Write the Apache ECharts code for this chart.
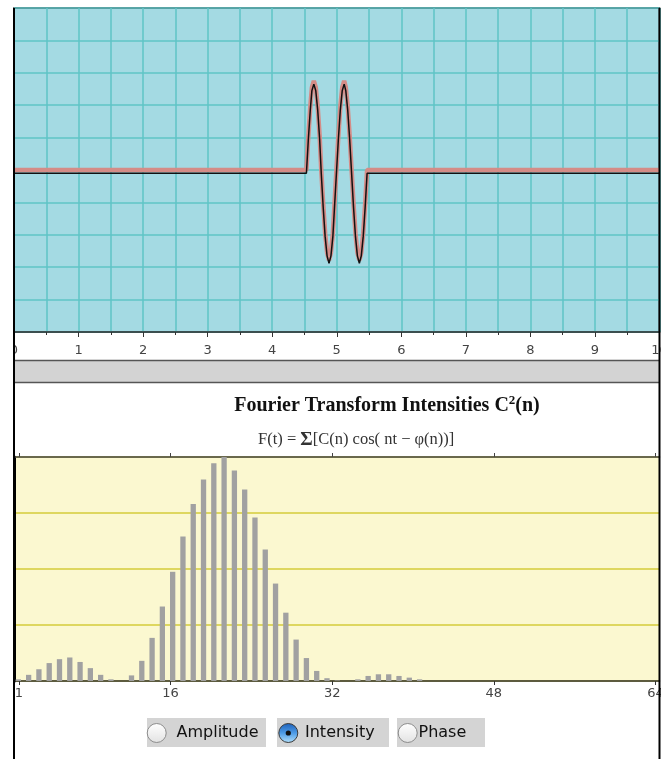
<!DOCTYPE html>
<html>
<head>
<meta charset="utf-8">
<script src="https://cdn.jsdelivr.net/npm/echarts@6/dist/echarts.min.js"></script>
<style>
  html, body { margin: 0; padding: 0; background: #fff; }
  #chart { position: absolute; left: 13px; top: 0; width: 648px; height: 759px; }
</style>
</head>
<body>
<div id="chart"></div>
<script>
// upper plot: wave packet
const waveT     = [0, 4.53, 4.56, 4.59, 4.615, 4.645, 4.675, 4.705, 4.735, 4.76, 4.79, 4.82, 4.85, 4.88, 4.91, 4.94, 4.965, 4.995,
                   5.025, 5.055, 5.085, 5.115, 5.14, 5.17, 5.2, 5.23, 5.26, 5.29, 5.32, 5.35, 5.38, 5.41, 5.44, 5.47, 10];
const wavePink  = [0, 0, 1.05, 1.95, 2.55, 2.75, 2.55, 1.95, 1.05, 0, -1.05, -1.95, -2.55, -2.78, -2.55, -1.95, -1.05, 0,
                   1.05, 1.95, 2.55, 2.75, 2.55, 1.95, 1.05, 0, -1.05, -1.95, -2.55, -2.78, -2.55, -1.95, -1.05, 0, 0];
const waveBlack = [-0.1, -0.1, 0.95, 1.85, 2.45, 2.65, 2.45, 1.85, 0.95, -0.1, -1.15, -2.05, -2.65, -2.88, -2.65, -2.05, -1.15, -0.1,
                   0.95, 1.85, 2.45, 2.65, 2.45, 1.85, 0.95, -0.1, -1.15, -2.05, -2.65, -2.88, -2.65, -2.05, -1.15, -0.1, -0.1];

// lower plot: intensity C^2(n) per harmonic, in grid-line units
const harmonicN = [1, 2, 3, 4, 5, 6, 7, 8, 9, 10, 11, 12, 13, 14, 15, 16, 17, 18, 19, 20, 21, 22, 23, 24, 25, 26, 27, 28, 29, 30, 31, 32,
                   33, 34, 35, 36, 37, 38, 39, 40, 41, 42, 43, 44, 45, 46, 47, 48, 49, 50, 51, 52, 53, 54, 55, 56, 57, 58, 59, 60, 61, 62, 63, 64];
const intensity = [0.03, 0.11, 0.21, 0.32, 0.39, 0.42, 0.34, 0.23, 0.11, 0.03, 0, 0.10, 0.36, 0.77, 1.33, 1.95, 2.58, 3.16, 3.60, 3.89,
                   4.0, 3.76, 3.42, 2.92, 2.35, 1.74, 1.22, 0.74, 0.41, 0.18, 0.05, 0.01, 0, 0.03, 0.09, 0.12, 0.12, 0.09, 0.06, 0.03,
                   0, 0, 0, 0, 0, 0, 0, 0, 0, 0, 0, 0, 0, 0, 0, 0, 0, 0, 0, 0, 0, 0, 0, 0];
const tickN = [1, 16, 32, 48, 64];

const radioLabels = ['Amplitude', 'Intensity', 'Phase'];
const radioSelected = 1;

const cyanGrid = '#5fc4c6';
const yellowGrid = '#d5cc3a';

const pinkData = waveT.map((t, i) => [t, wavePink[i]]);
const blackData = waveT.map((t, i) => [t, waveBlack[i]]);
const barData = harmonicN.map((n, i) => [n, intensity[i]]);

// radio buttons (container coords)
const radioBoxes = [
  { x: 134, w: 119, cx: 143.7, tx: 163.5 },
  { x: 264, w: 112, cx: 275.3, tx: 292 },
  { x: 384, w: 88, cx: 394.7, tx: 405.5 }
];
const radioGraphics = [];
radioLabels.forEach((label, i) => {
  const b = radioBoxes[i];
  const on = i === radioSelected;
  radioGraphics.push({ type: 'rect', shape: { x: b.x, y: 718, width: b.w, height: 29 }, style: { fill: '#d4d4d4' } });
  radioGraphics.push({
    type: 'circle', shape: { cx: b.cx, cy: 733, r: 9.5 },
    style: {
      fill: on
        ? new echarts.graphic.LinearGradient(0, 0, 0, 1, [{ offset: 0, color: '#1d5fb8' }, { offset: 0.5, color: '#4d9be6' }, { offset: 1, color: '#b6e2fb' }])
        : new echarts.graphic.LinearGradient(0, 0, 0, 1, [{ offset: 0, color: '#ffffff' }, { offset: 1, color: '#e2e2e2' }]),
      stroke: on ? '#3a3a3a' : '#8c8c8c', lineWidth: 1
    }
  });
  if (on) radioGraphics.push({ type: 'circle', shape: { cx: b.cx, cy: 733, r: 2.6 }, style: { fill: '#111' } });
  radioGraphics.push({
    type: 'text', x: b.tx, y: 733,
    style: { text: label, fill: '#111', font: '16px "DejaVu Sans"', verticalAlign: 'middle', align: 'left' }
  });
});

const chart = echarts.init(document.getElementById('chart'));
chart.setOption({
  animation: false,
  grid: [
    { left: 1, right: 1.5, top: 8, height: 324, outerBoundsMode: 'none', containLabel: false,
      show: true, backgroundColor: '#a4dae3', borderColor: '#111', borderWidth: 1.5 },
    { left: 1, right: 1.5, top: 457, height: 224, outerBoundsMode: 'none', containLabel: false,
      show: true, backgroundColor: '#fbf8d0', borderWidth: 0 }
  ],
  xAxis: [
    {
      gridIndex: 0, type: 'value', min: 0, max: 10, interval: 1,
      axisLine: { show: true, onZero: false, lineStyle: { color: '#333', width: 1.5 } },
      axisTick: { show: true, length: 5, lineStyle: { color: '#333' } },
      minorTick: { show: true, splitNumber: 2, length: 3, lineStyle: { color: '#333' } },
      splitLine: { show: true, lineStyle: { color: cyanGrid, width: 1.5 } },
      minorSplitLine: { show: true, lineStyle: { color: cyanGrid, width: 1.5 } },
      axisLabel: { color: '#444', fontFamily: 'DejaVu Sans', fontSize: 13, margin: 12 }
    },
    { gridIndex: 1, type: 'value', min: 0.578, max: 63.32, show: false },
    {
      gridIndex: 1, type: 'value', position: 'bottom', min: 0.505, max: 64.4,
      axisLine: { show: true, onZero: false, lineStyle: { color: '#333', width: 1.5 } },
      axisTick: { show: true, customValues: tickN, length: 4, lineStyle: { color: '#333' } },
      axisLabel: { customValues: tickN, color: '#444', fontFamily: 'DejaVu Sans', fontSize: 13, margin: 6 },
      splitLine: { show: false }
    },
    {
      gridIndex: 1, type: 'value', position: 'top', min: 0.505, max: 64.4,
      axisLine: { show: true, onZero: false, lineStyle: { color: '#444', width: 1.5 } },
      axisTick: { show: true, customValues: tickN, length: 4, lineStyle: { color: '#444' } },
      axisLabel: { show: false },
      splitLine: { show: false }
    }
  ],
  yAxis: [
    {
      gridIndex: 0, type: 'value', min: -5, max: 5, interval: 1,
      axisLine: { show: false }, axisTick: { show: false }, axisLabel: { show: false },
      splitLine: { show: true, lineStyle: { color: cyanGrid, width: 1.5 } }
    },
    {
      gridIndex: 1, type: 'value', min: 0, max: 4, interval: 1,
      axisLine: { show: true, lineStyle: { color: '#000', width: 3 } },
      axisTick: { show: false }, axisLabel: { show: false },
      splitLine: { show: true, lineStyle: { color: yellowGrid, width: 1.5 } }
    }
  ],
  series: [
    {
      type: 'line', xAxisIndex: 0, yAxisIndex: 0, data: pinkData, showSymbol: false, z: 3,
      lineStyle: { color: '#d48c87', width: 4.5 }
    },
    {
      type: 'line', xAxisIndex: 0, yAxisIndex: 0, data: blackData, showSymbol: false, z: 4,
      lineStyle: { color: '#111', width: 1.5 }
    },
    {
      type: 'bar', xAxisIndex: 1, yAxisIndex: 1, data: barData, barWidth: 5.3,
      itemStyle: { color: '#a1a1a1' }
    }
  ],
  graphic: [
    { type: 'rect', shape: { x: 1, y: 360, width: 645.5, height: 22.5 }, style: { fill: '#d3d3d3' } },
    { type: 'line', shape: { x1: 1, y1: 360.5, x2: 646.5, y2: 360.5 }, style: { stroke: '#555', lineWidth: 1.5 } },
    { type: 'line', shape: { x1: 1, y1: 382.5, x2: 646.5, y2: 382.5 }, style: { stroke: '#555', lineWidth: 1.5 } },
    { type: 'line', shape: { x1: 1, y1: 8, x2: 1, y2: 759 }, style: { stroke: '#000', lineWidth: 2 }, z: 50 },
    { type: 'line', shape: { x1: 646.5, y1: 8, x2: 646.5, y2: 759 }, style: { stroke: '#000', lineWidth: 2 }, z: 50 },
    {
      type: 'text', x: 374, y: 406,
      style: {
        text: '{a|Fourier Transform Intensities C}{s|2}{a|(n)}',
        align: 'center', verticalAlign: 'middle',
        rich: {
          a: { fontFamily: 'Liberation Serif', fontWeight: 'bold', fontSize: 20, fill: '#111', color: '#111' },
          s: { fontFamily: 'Liberation Serif', fontWeight: 'bold', fontSize: 13, fill: '#111', color: '#111', verticalAlign: 'top', padding: [0, 0, 10, 0] }
        }
      }
    },
    {
      type: 'text', x: 245, y: 440,
      style: {
        text: 'F(t) = {b|Σ}[C(n) cos( nt − φ(n))]',
        align: 'left', verticalAlign: 'middle',
        font: '16.5px "Liberation Serif"', fill: '#333',
        rich: { b: { fontFamily: 'Liberation Serif', fontWeight: 'bold', fontSize: 19, fill: '#333', color: '#333' } }
      }
    }
  ].concat(radioGraphics)
});
</script>
</body>
</html>
